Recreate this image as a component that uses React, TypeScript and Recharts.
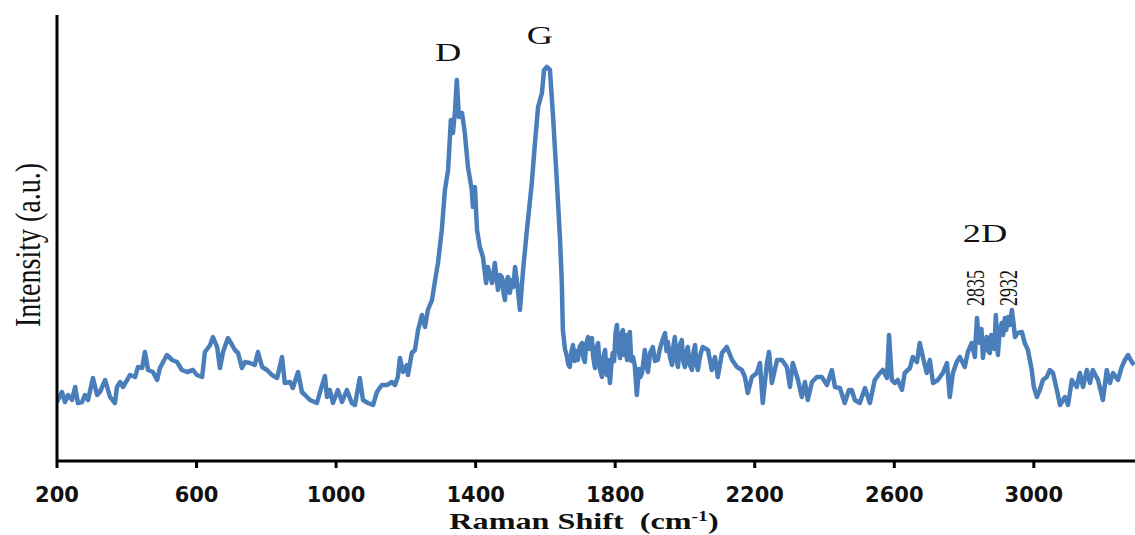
import React from "react";
import { LineChart, Line, XAxis, YAxis, ReferenceDot } from "recharts";

// [Raman shift (cm-1), intensity (a.u.)]
const spectrum: [number, number][] = [
  [200, 59], [214, 69], [223, 59], [232, 66], [243, 61], [252, 74], [260, 58], [272, 59], [280, 66], [289, 61],
  [303, 83], [315, 66], [323, 69], [338, 81], [352, 64], [366, 58], [372, 74], [381, 79], [389, 74], [401, 81],
  [409, 86], [424, 84], [432, 94], [444, 93], [452, 109], [461, 91], [475, 89], [487, 81], [495, 93], [515, 106],
  [530, 101], [544, 99], [558, 91], [573, 89], [590, 91], [601, 86], [616, 84], [624, 109], [639, 116], [647, 124],
  [659, 114], [667, 93], [676, 109], [690, 123], [702, 116], [710, 111], [719, 108], [730, 93], [739, 99], [753, 98],
  [767, 96], [776, 109], [788, 94], [802, 91], [816, 86], [831, 83], [845, 104], [853, 78], [868, 79], [876, 73],
  [891, 89], [902, 69], [911, 66], [925, 61], [945, 58], [954, 69], [968, 85], [974, 64], [982, 71], [991, 58],
  [1005, 71], [1017, 59], [1031, 71], [1045, 58], [1054, 56], [1068, 83], [1077, 61], [1091, 58], [1106, 56], [1117, 69],
  [1131, 76], [1146, 76], [1160, 79], [1169, 76], [1177, 84], [1183, 103], [1192, 89], [1203, 96], [1206, 86], [1217, 108],
  [1226, 111], [1235, 131], [1246, 146], [1255, 134], [1263, 151], [1275, 161], [1283, 179], [1292, 198], [1303, 231], [1312, 271],
  [1321, 291], [1329, 341], [1335, 328], [1341, 351], [1346, 381], [1352, 344], [1361, 348], [1369, 328], [1378, 294], [1389, 271],
  [1392, 254], [1398, 274], [1404, 231], [1412, 214], [1421, 204], [1430, 178], [1435, 194], [1447, 178], [1455, 198], [1464, 171],
  [1470, 186], [1475, 184], [1480, 168], [1484, 161], [1488, 180], [1493, 184], [1498, 168], [1504, 181], [1508, 174], [1513, 194],
  [1520, 175], [1527, 151], [1536, 191], [1547, 231], [1561, 278], [1570, 318], [1579, 354], [1590, 368], [1596, 391], [1604, 394],
  [1613, 391], [1622, 344], [1633, 278], [1642, 221], [1647, 178], [1650, 131], [1656, 112], [1662, 104], [1666, 96], [1670, 94],
  [1674, 108], [1679, 116], [1684, 100], [1688, 110], [1693, 101], [1698, 114], [1705, 118], [1709, 103], [1713, 99], [1717, 117],
  [1722, 124], [1727, 112], [1733, 123], [1737, 104], [1742, 93], [1746, 113], [1751, 118], [1756, 92], [1762, 84], [1766, 104],
  [1771, 111], [1776, 86], [1780, 101], [1785, 78], [1789, 96], [1793, 108], [1797, 100], [1801, 128], [1805, 136], [1809, 112],
  [1814, 103], [1818, 127], [1822, 131], [1826, 106], [1830, 126], [1834, 101], [1838, 122], [1842, 129], [1846, 100], [1851, 104],
  [1856, 96], [1862, 66], [1868, 92], [1872, 84], [1877, 88], [1885, 111], [1889, 96], [1894, 89], [1900, 108], [1908, 114],
  [1914, 100], [1922, 101], [1928, 112], [1934, 119], [1943, 128], [1947, 110], [1951, 119], [1957, 104], [1963, 96], [1967, 115],
  [1971, 124], [1976, 100], [1980, 94], [1985, 116], [1991, 121], [1995, 100], [2000, 94], [2004, 108], [2008, 114], [2014, 96],
  [2020, 91], [2024, 108], [2029, 116], [2033, 96], [2037, 91], [2044, 106], [2051, 114], [2066, 111], [2077, 91], [2086, 104],
  [2094, 84], [2106, 108], [2120, 114], [2135, 101], [2149, 94], [2163, 91], [2172, 84], [2180, 68], [2192, 84], [2206, 88],
  [2215, 98], [2223, 58], [2235, 98], [2241, 109], [2249, 78], [2264, 101], [2278, 101], [2292, 94], [2301, 74], [2309, 98],
  [2324, 81], [2335, 64], [2344, 79], [2352, 61], [2364, 79], [2378, 84], [2392, 84], [2407, 76], [2421, 91], [2430, 74],
  [2444, 73], [2458, 58], [2470, 71], [2478, 71], [2487, 61], [2501, 58], [2516, 73], [2530, 58], [2544, 81], [2559, 88],
  [2567, 91], [2579, 83], [2585, 126], [2593, 81], [2602, 78], [2610, 81], [2622, 71], [2630, 88], [2645, 93], [2653, 104],
  [2665, 99], [2673, 118], [2682, 104], [2693, 88], [2702, 101], [2711, 78], [2725, 81], [2739, 88], [2751, 98], [2759, 64],
  [2768, 88], [2779, 99], [2788, 104], [2802, 94], [2811, 109], [2822, 118], [2831, 104], [2834, 125], [2837, 143], [2841, 128],
  [2845, 118], [2850, 132], [2854, 103], [2860, 120], [2865, 124], [2869, 110], [2874, 108], [2878, 126], [2883, 121], [2887, 112],
  [2891, 146], [2894, 128], [2897, 106], [2902, 130], [2908, 138], [2912, 126], [2917, 143], [2921, 131], [2926, 144], [2931, 136],
  [2937, 151], [2941, 140], [2946, 124], [2954, 128], [2966, 129], [2974, 118], [2983, 111], [2994, 91], [3000, 74], [3009, 64],
  [3017, 71], [3026, 81], [3037, 84], [3046, 91], [3055, 88], [3066, 71], [3075, 56], [3089, 64], [3098, 56], [3109, 81],
  [3123, 74], [3132, 88], [3141, 74], [3152, 91], [3161, 78], [3169, 91], [3184, 81], [3198, 61], [3209, 91], [3218, 78],
  [3227, 88], [3241, 81], [3252, 94], [3261, 101], [3270, 106], [3281, 99], [3287, 96],
];

const xTicks = [200, 600, 1000, 1400, 1800, 2200, 2600, 3000];

const peakLabels = [
  { text: "D", shift: 1321, intensity: 400 },
  { text: "G", shift: 1584, intensity: 417 },
  { text: "2D", shift: 2860, intensity: 219 },
];

const bandLabels = [
  { text: "2835", shift: 2832, intensity: 173 },
  { text: "2932", shift: 2926, intensity: 173 },
];

const data = spectrum.map(([shift, intensity]) => ({ shift, intensity }));

const SERIF = "'Liberation Serif', 'Times New Roman', serif";
const BLUE = "#4a7ebb";

function XTick(props: any) {
  const { x, y, payload } = props;
  return (
    <text
      x={x}
      y={y}
      dy={32}
      textAnchor="middle"
      fontFamily="'DejaVu Sans', sans-serif"
      fontWeight="bold"
      fontSize={21}
      fill="#111"
    >
      {payload.value}
    </text>
  );
}

function XTitle(props: any) {
  const { viewBox } = props;
  const cx = viewBox.x + viewBox.width / 2 - 12;
  return (
    <text
      transform={`translate(${cx},529) scale(1.4,1)`}
      textAnchor="middle"
      fontFamily={SERIF}
      fontWeight="bold"
      fontSize={23}
      fill="#111"
      style={{ whiteSpace: "pre" }}
    >
      Raman Shift  (cm
      <tspan dy={-8} fontSize={14}>-1</tspan>
      <tspan dy={8}>)</tspan>
    </text>
  );
}

function YTitle() {
  return (
    <text
      transform="translate(28,245) scale(1.3,1) rotate(-90)"
      textAnchor="middle"
      dominantBaseline="central"
      fontFamily={SERIF}
      fontSize={28}
      fill="#111"
    >
      Intensity (a.u.)
    </text>
  );
}

export default function App() {
  return (
    <div style={{ position: "absolute", left: 0, top: 0, width: 1135, height: 535, background: "#fff" }}>
      <LineChart width={1135} height={535} data={data} margin={{ top: 15, right: 0, bottom: 14, left: 47 }}>
        <XAxis
          dataKey="shift"
          type="number"
          domain={[200, 3290]}
          ticks={xTicks}
          allowDataOverflow
          height={60}
          axisLine={{ stroke: "#000", strokeWidth: 3 }}
          tickLine={{ stroke: "#000", strokeWidth: 3 }}
          tickSize={7}
          tick={<XTick />}
          label={<XTitle />}
        />
        <YAxis
          type="number"
          domain={[0, 446]}
          width={10}
          tick={false}
          tickLine={false}
          axisLine={{ stroke: "#000", strokeWidth: 3 }}
        />
        <Line
          type="linear"
          dataKey="intensity"
          stroke={BLUE}
          strokeWidth={4.5}
          strokeLinejoin="round"
          dot={false}
          isAnimationActive={false}
        />
        {peakLabels.map((p) => (
          <ReferenceDot
            key={p.text}
            x={p.shift}
            y={p.intensity}
            r={0}
            shape={(s: any) => (
              <text
                transform={`translate(${s.cx},${s.cy}) scale(1.4,1)`}
                textAnchor="middle"
                fontFamily={SERIF}
                fontSize={26}
                fill="#111"
              >
                {p.text}
              </text>
            )}
          />
        ))}
        {bandLabels.map((b) => (
          <ReferenceDot
            key={b.text}
            x={b.shift}
            y={b.intensity}
            r={0}
            shape={(s: any) => (
              <text
                transform={`translate(${s.cx},${s.cy}) scale(1.4,1) rotate(-90)`}
                textAnchor="middle"
                dominantBaseline="central"
                fontFamily={SERIF}
                fontSize={18}
                fill="#111"
              >
                {b.text}
              </text>
            )}
          />
        ))}
        <YTitle />
      </LineChart>
    </div>
  );
}
